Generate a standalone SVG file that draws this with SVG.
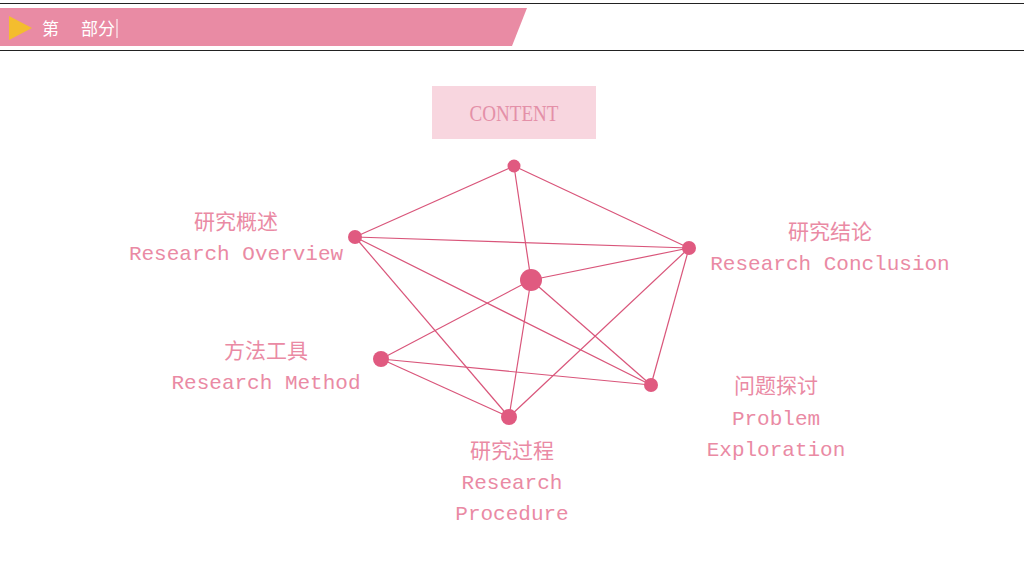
<svg xmlns="http://www.w3.org/2000/svg" width="1024" height="576" viewBox="0 0 1024 576">
<style>
.e{stroke:#d9557a;stroke-width:1.2;fill:none}
.n{fill:#e05a80}
.t{font-family:"Liberation Mono","Noto Sans CJK SC",monospace;font-size:21px;fill:#ea8aa4;text-anchor:middle}
</style>
<rect width="1024" height="576" fill="#fff"/>
<line x1="0" y1="3.5" x2="1024" y2="3.5" stroke="#222" stroke-width="1.2"/>
<line x1="0" y1="50.5" x2="1024" y2="50.5" stroke="#222" stroke-width="1.2"/>
<g id="header">
<polygon points="0,8 527,8 512,46 0,46" fill="#e98ba4"/>
<polygon points="9,16 32,28 9,40" fill="#f4bd2e"/>
<text x="42" y="35" font-family="'Noto Sans CJK SC',sans-serif" font-size="17" fill="#fff">第</text>
<text x="81" y="35" font-family="'Noto Sans CJK SC',sans-serif" font-size="17" fill="#fff">部分</text>
<line x1="117" y1="19" x2="117" y2="38" stroke="#fff" stroke-width="1"/>
</g>
<g id="title">
<rect x="432" y="86" width="164" height="53" fill="#f8d6df"/>
<text x="514" y="121" font-family="'Liberation Serif',serif" font-size="23" fill="#e490a8" text-anchor="middle" textLength="89" lengthAdjust="spacingAndGlyphs">CONTENT</text>
</g>
<g id="connectors">
<line class="e" x1="514" y1="166" x2="355" y2="237"/>
<line class="e" x1="514" y1="166" x2="689" y2="248"/>
<line class="e" x1="514" y1="166" x2="531" y2="280"/>
<line class="e" x1="355" y1="237" x2="689" y2="248"/>
<line class="e" x1="355" y1="237" x2="509" y2="417"/>
<line class="e" x1="355" y1="237" x2="651" y2="385"/>
<line class="e" x1="531" y1="280" x2="689" y2="248"/>
<line class="e" x1="531" y1="280" x2="381" y2="359"/>
<line class="e" x1="531" y1="280" x2="651" y2="385"/>
<line class="e" x1="531" y1="280" x2="509" y2="417"/>
<line class="e" x1="689" y1="248" x2="509" y2="417"/>
<line class="e" x1="689" y1="248" x2="651" y2="385"/>
<line class="e" x1="381" y1="359" x2="651" y2="385"/>
<line class="e" x1="381" y1="359" x2="509" y2="417"/>
</g>
<g id="node-top"><circle class="n" cx="514" cy="166" r="6.5"/></g>
<g id="node-center"><circle class="n" cx="531" cy="280" r="11"/></g>
<g id="node-overview"><circle class="n" cx="355" cy="237" r="7"/>
<text class="t" x="236" y="229">研究概述</text><text class="t" x="236" y="260">Research Overview</text></g>
<g id="node-conclusion"><circle class="n" cx="689" cy="248" r="7"/>
<text class="t" x="830" y="239">研究结论</text><text class="t" x="830" y="270">Research Conclusion</text></g>
<g id="node-method"><circle class="n" cx="381" cy="359" r="8"/>
<text class="t" x="266" y="358">方法工具</text><text class="t" x="266" y="389">Research Method</text></g>
<g id="node-problem"><circle class="n" cx="651" cy="385" r="7"/>
<text class="t" x="776" y="393">问题探讨</text><text class="t" x="776" y="425">Problem</text><text class="t" x="776" y="456">Exploration</text></g>
<g id="node-procedure"><circle class="n" cx="509" cy="417" r="8"/>
<text class="t" x="512" y="458">研究过程</text><text class="t" x="512" y="489">Research</text><text class="t" x="512" y="520">Procedure</text></g>
</svg>
